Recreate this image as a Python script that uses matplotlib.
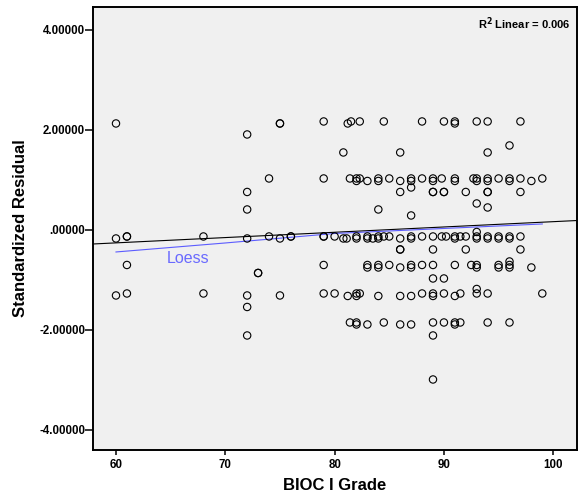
import numpy as np
import matplotlib
matplotlib.use("Agg")
import matplotlib.pyplot as plt

plt.rcParams["font.family"] = ["Liberation Sans", "DejaVu Sans"]
plt.rcParams["font.weight"] = "bold"

# BIOC I grade vs standardized residual, row by row
grade = [
    60, 60, 60,
    61, 61, 61, 61,
    68, 68,
    72, 72, 72, 72, 72, 72, 72,
    73, 73, 74, 74,
    75, 75, 75, 75, 76, 76,
    79, 79, 79, 79, 79, 79, 80, 80,
    # top band
    81.2, 81.5, 82.3, 84.5, 88, 90, 91, 91, 93, 94, 97,
    80.8, 86, 94, 96,
    # band near 1
    81.4, 82, 82, 82.3, 83, 84, 84, 85, 86, 87, 87, 88, 89, 89, 89.8,
    91, 91, 92.7, 93, 93, 94, 94, 95, 96, 96, 97, 98, 99,
    86, 87, 89, 89, 90, 90, 92, 94, 94, 97,
    84, 87, 93, 94,
    # band near 0
    80.8, 81.1, 82, 82, 83, 83, 83.5, 84, 84, 84.5, 85, 86, 87, 87, 88,
    89, 89.8, 90.2, 91, 91, 91.5, 92, 93, 93, 93, 94, 94, 95, 95, 96, 96, 97,
    86, 86, 89, 92, 97,
    83, 83, 84, 84, 85, 86, 87, 87, 88, 89, 91, 92.5, 93, 93,
    95, 95, 96, 96, 96, 98,
    89, 90,
    81.2, 82, 82, 82.3, 84, 86, 87, 88, 89, 89, 90, 91, 91.5, 93, 93, 94, 99,
    81.4, 82, 82, 83, 84.5, 86, 87, 89, 90, 91, 91, 91.5, 94, 96,
    89, 89,
]
resid = [
    2.13, -0.17, -1.31,
    -0.13, -0.13, -0.70, -1.27,
    -0.13, -1.27,
    1.91, 0.76, 0.41, -0.17, -1.31, -1.54, -2.11,
    -0.86, -0.86, 1.03, -0.13,
    2.13, 2.13, -0.17, -1.31, -0.13, -0.13,
    2.17, 1.03, -0.13, -0.13, -0.70, -1.27, -0.13, -1.27,
    2.13, 2.17, 2.17, 2.17, 2.17, 2.17, 2.17, 2.13, 2.17, 2.17, 2.17,
    1.55, 1.55, 1.55, 1.69,
    1.03, 1.03, 0.98, 1.03, 0.98, 1.03, 0.98, 1.03, 0.98, 1.03, 0.98, 1.03, 1.03, 0.98, 1.03,
    1.03, 0.98, 1.03, 1.03, 0.98, 1.03, 0.98, 1.03, 1.03, 0.98, 1.03, 0.98, 1.03,
    0.76, 0.85, 0.76, 0.76, 0.76, 0.76, 0.76, 0.76, 0.76, 0.76,
    0.41, 0.29, 0.53, 0.45,
    -0.17, -0.17, -0.13, -0.17, -0.13, -0.17, -0.17, -0.13, -0.17, -0.13, -0.13, -0.17, -0.13, -0.17, -0.13,
    -0.13, -0.13, -0.13, -0.13, -0.17, -0.13, -0.13, -0.04, -0.13, -0.17, -0.13, -0.17, -0.13, -0.17, -0.13, -0.17, -0.13,
    -0.39, -0.39, -0.39, -0.39, -0.39,
    -0.70, -0.75, -0.70, -0.75, -0.70, -0.75, -0.70, -0.75, -0.70, -0.70, -0.70, -0.70, -0.70, -0.75,
    -0.70, -0.75, -0.63, -0.70, -0.75, -0.75,
    -0.97, -0.97,
    -1.32, -1.27, -1.32, -1.27, -1.32, -1.32, -1.32, -1.27, -1.27, -1.32, -1.27, -1.32, -1.27, -1.18, -1.27, -1.27, -1.27,
    -1.85, -1.85, -1.89, -1.89, -1.85, -1.89, -1.89, -1.85, -1.85, -1.85, -1.89, -1.85, -1.85, -1.85,
    -2.11, -2.99,
]

# linear fit line and loess curve
fit_intercept = -0.894
fit_slope = 0.0106
r_squared = 0.006
loess_x = [60, 70, 80, 90, 95, 99]
loess_y = [-0.44, -0.26, -0.07, 0.03, 0.08, 0.12]

x_ticks = [60, 70, 80, 90, 100]
y_ticks = [-4, -2, 0, 2, 4]
y_tick_labels = ["-4.00000", "-2.00000", ".00000", "2.00000", "4.00000"]

fig = plt.figure(figsize=(5.78, 4.97), dpi=100)
ax = fig.add_axes([0.1604, 0.0946, 0.8374, 0.8914])
ax.set_facecolor("#f0f0f0")

xlim = (57.87, 102.15)
ax.set_xlim(xlim)
ax.set_ylim(-4.4, 4.46)

xs = np.array(xlim)
ax.plot(xs, fit_intercept + fit_slope * xs, color="black", lw=0.8, zorder=2)
ax.plot(loess_x, loess_y, color="#5c5cff", lw=0.8, zorder=2)

ax.scatter(grade, resid, s=28, facecolors="none", edgecolors="black",
           linewidths=0.8, zorder=3)

ax.text(66.6, -0.58, "Loess", color="#6a6aff", fontsize=11.5,
        fontweight="normal", ha="center", va="center")
ax.text(0.986, 0.962, "R$^2$ Linear = %.3f" % r_squared, transform=ax.transAxes,
        ha="right", va="center", fontsize=8, fontweight="bold")

ax.set_xticks(x_ticks)
ax.set_yticks(y_ticks)
ax.set_yticklabels(y_tick_labels)
ax.tick_params(axis="y", length=5.5, width=1.1, pad=0, labelsize=8.3)
ax.tick_params(axis="x", length=3.6, width=1.1, pad=3, labelsize=8.3)
for lab in ax.get_xticklabels() + ax.get_yticklabels():
    lab.set_fontweight("bold")
for sp in ax.spines.values():
    sp.set_linewidth(1.4)

ax.set_xlabel("BIOC I Grade", fontsize=12, fontweight="bold", labelpad=5)
ax.set_ylabel("Standardized Residual", fontsize=12, fontweight="bold", labelpad=8)

fig.savefig("out.png", dpi=100)
